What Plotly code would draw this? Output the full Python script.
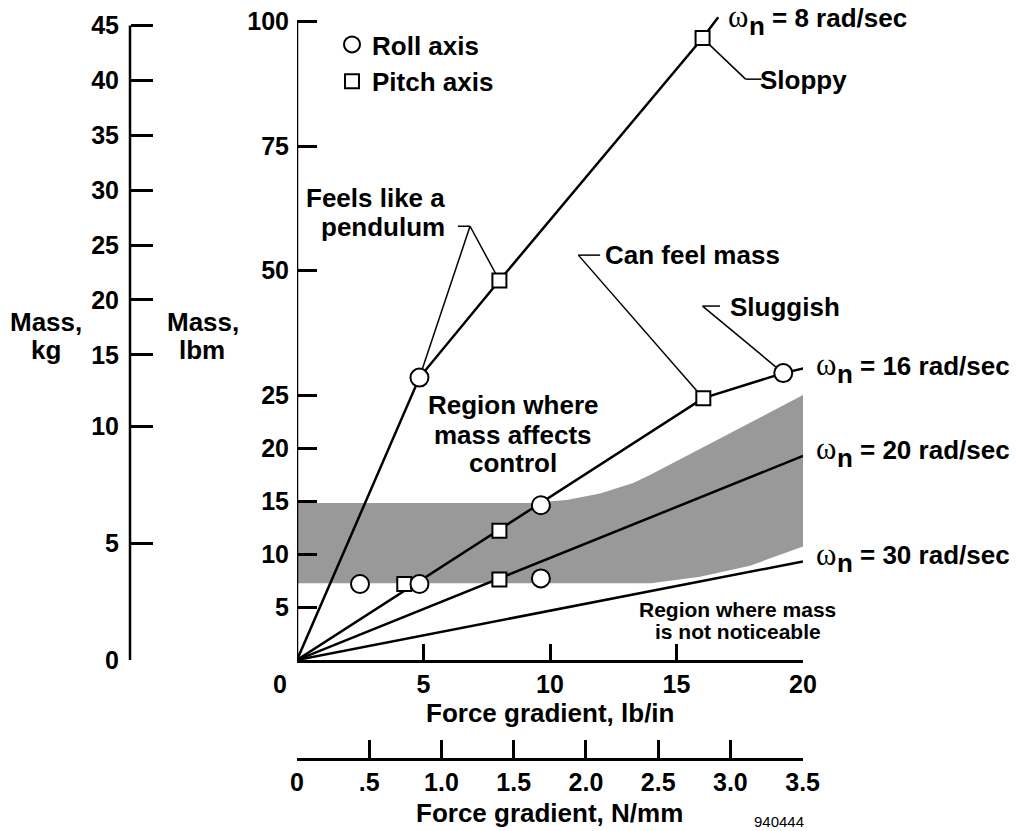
import plotly.graph_objects as go

# ---------------- data ----------------
LB_PER_KG = 2.20462
NMM_PER_LBIN = 0.175127

# constant natural-frequency lines: force gradient (lb/in) vs mass (lbm)
w8_force = [0, 4.84, 8.0, 16.03, 16.65]
w8_mass = [0, 28.5, 48.0, 96.7, 100.9]
w16_force = [0, 16.06, 19.22, 20.08]
w16_mass = [0, 24.7, 29.4, 30.4]
w20_force = [0, 20]
w20_mass = [0, 19.25]
w30_force = [0, 20]
w30_mass = [0, 9.3]

# test points
roll_force = [2.49, 4.84, 4.84, 9.64, 9.64, 19.22]
roll_mass = [7.17, 7.17, 28.5, 14.6, 7.7, 29.4]
pitch_force = [4.24, 8.0, 8.0, 8.0, 16.06, 16.03]
pitch_mass = [7.17, 7.6, 12.2, 48.0, 24.7, 96.7]

# shaded region "mass affects control"
region_upper_force = [0, 9.2, 10.66, 11.98, 13.29, 13.95, 20]
region_upper_mass = [14.8, 14.8, 15.1, 15.7, 16.7, 17.45, 25.0]
region_lower_force = [0, 13.99, 15.93, 17.91, 20]
region_lower_mass = [7.25, 7.25, 7.85, 8.9, 10.7]

# ticks
lbm_ticks = [5, 10, 15, 20, 25, 50, 75, 100]
kg_ticks = [0, 5, 10, 15, 20, 25, 30, 35, 40, 45]
force_ticks = [5, 10, 15, 20]
nmm_ticks = [0, 0.5, 1.0, 1.5, 2.0, 2.5, 3.0, 3.5]
nmm_labels = ["0", ".5", "1.0", "1.5", "2.0", "2.5", "3.0", "3.5"]

# ---------------- scale (broken mass axis: compressed above 25 lbm) ----------------
BREAK = 25.0
UPPER_RATIO = 0.4696


def ymap(m):
    return m if m <= BREAK else BREAK + (m - BREAK) * UPPER_RATIO


def ymapl(vals):
    return [ymap(v) for v in vals]


# ---------------- layout geometry ----------------
W, H = 1016, 831
ML, MR, MT, MB = 130, 213, 6, 72
PW = W - ML - MR
PH = H - MT - MB
PX_PER_LBM = 10.6


def px(x):
    return (x - ML) / PW


def py(y):
    return (H - MB - y) / PH


SANS = "Liberation Sans, Arial, Helvetica, sans-serif"
SERIF = "Liberation Serif, DejaVu Serif, serif"
BLACK = "black"

fig = go.Figure()

# shaded region
fig.add_trace(go.Scatter(
    x=region_upper_force + region_lower_force[::-1],
    y=ymapl(region_upper_mass) + ymapl(region_lower_mass[::-1]),
    fill="toself", fillcolor="#999999", mode="lines", line=dict(width=0),
    showlegend=False, hoverinfo="skip"))

for fx, my in [(w8_force, w8_mass), (w16_force, w16_mass),
               (w20_force, w20_mass), (w30_force, w30_mass)]:
    fig.add_trace(go.Scatter(x=fx, y=ymapl(my), mode="lines",
                             line=dict(color=BLACK, width=2.5),
                             showlegend=False, hoverinfo="skip"))

fig.add_trace(go.Scatter(
    x=pitch_force, y=ymapl(pitch_mass), mode="markers", name="Pitch axis",
    marker=dict(symbol="square", size=14, color="white",
                line=dict(color=BLACK, width=2)), legendrank=2))
fig.add_trace(go.Scatter(
    x=roll_force, y=ymapl(roll_mass), mode="markers", name="Roll axis",
    marker=dict(symbol="circle", size=18, color="white",
                line=dict(color=BLACK, width=2)), legendrank=1))

# dummy traces so the secondary axes are drawn
fig.add_trace(go.Scatter(x=[0], y=[0], xaxis="x2", yaxis="y", mode="markers",
                         marker=dict(opacity=0), showlegend=False, hoverinfo="skip"))
fig.add_trace(go.Scatter(x=[0], y=[0], xaxis="x", yaxis="y2", mode="markers",
                         marker=dict(opacity=0), showlegend=False, hoverinfo="skip"))

# ---------------- leaders & axis lines ----------------
shapes = []


def leader(points):
    for a, b in zip(points[:-1], points[1:]):
        shapes.append(dict(type="line", xref="x", yref="y", x0=a[0], y0=ymap(a[1]),
                           x1=b[0], y1=ymap(b[1]), layer="below",
                           line=dict(color=BLACK, width=1.5)))


leader([(6.36, 58.9), (6.84, 58.9), (8.0, 48.0)])
leader([(6.84, 58.9), (4.84, 28.5)])
leader([(11.98, 53.1), (11.12, 53.1), (16.06, 24.7)])
leader([(16.72, 42.87), (16.03, 42.87), (19.22, 29.4)])
leader([(16.03, 96.7), (17.73, 88.45), (18.36, 88.45)])

# lbm axis line (0..100) and kg axis line (0..45)
shapes.append(dict(type="line", xref="x", yref="y", x0=0, x1=0, y0=0, y1=ymap(100),
                   line=dict(color=BLACK, width=2.5)))
shapes.append(dict(type="line", xref="paper", yref="y", x0=0, x1=0, y0=0,
                   y1=ymap(45 * LB_PER_KG), line=dict(color=BLACK, width=2.5)))

# ---------------- text ----------------
ann = []


def label(text, x, y, xanchor="center", size=26, weight="bold", family=SANS):
    ann.append(dict(text=text, x=px(x), y=py(y), xref="paper", yref="paper",
                    xanchor=xanchor, yanchor="middle", showarrow=False,
                    font=dict(size=size, family=family, weight=weight, color=BLACK)))


def omega_label(value, x, y):
    label("ω", x - 1, y - 1, "left", size=31, family=SERIF, weight="normal")
    label("n", x + 20, y + 8, "left")
    label(f"= {value} rad/sec", x + 43, y, "left")


label("Mass,", 46, 322)
label("kg", 46, 350)
label("Mass,", 202.5, 322)
label("lbm", 202, 350)
label("0", 280, 684, size=25)

label("Feels like a", 447, 198, "right")
label("pendulum", 447, 226.7, "right")
label("Can feel mass", 602.7, 255, "left")
label("Sluggish", 728, 306.7, "left")
label("Sloppy", 757.7, 80, "left")
label("Region where", 513, 405)
label("mass affects", 513, 435)
label("control", 513, 463)
label("Region where mass", 737.5, 609, size=21)
label("is not noticeable", 737.5, 631.7, size=21)

omega_label(8, 727, 18)
omega_label(16, 815, 365.5)
omega_label(20, 815, 450)
omega_label(30, 815, 555)

label("Force gradient, lb/in", 550, 713)
label("Force gradient, N/mm", 549, 812.7)
label("940444", 806, 821, "right", size=15, weight="normal")

tickfont = dict(size=25, family=SANS, weight="bold", color=BLACK)
yrange = [0, (660 - MT) / PX_PER_LBM]

fig.update_layout(
    width=W, height=H, autosize=False,
    margin=dict(l=ML, r=MR, t=MT, b=MB, pad=0),
    paper_bgcolor="white", plot_bgcolor="white",
    font=dict(family=SANS, color=BLACK),
    showlegend=True,
    legend=dict(x=px(332), y=py(21), xanchor="left", yanchor="top",
                font=dict(size=26, family=SANS, weight="bold", color=BLACK),
                bgcolor="rgba(0,0,0,0)", borderwidth=0, itemsizing="trace",
                tracegroupgap=0),
    xaxis=dict(domain=[px(297), 1], range=[0, 20], anchor="y",
               showgrid=False, zeroline=False, showline=True,
               linecolor=BLACK, linewidth=2.5,
               ticks="inside", ticklen=16, tickwidth=2.5, tickcolor=BLACK,
               tickvals=force_ticks, ticktext=[str(v) for v in force_ticks],
               tickfont=tickfont),
    xaxis2=dict(overlaying="x", anchor="free", position=0, side="bottom",
                range=[0, 20], showgrid=False, zeroline=False, showline=True,
                linecolor=BLACK, linewidth=2.5,
                ticks="inside", ticklen=18, tickwidth=2.5, tickcolor=BLACK,
                tickvals=[v / NMM_PER_LBIN for v in nmm_ticks], ticktext=nmm_labels,
                tickfont=tickfont),
    yaxis=dict(domain=[py(660), 1], range=yrange, anchor="x",
               showgrid=False, zeroline=False, showline=False,
               ticks="inside", ticklen=20, tickwidth=2.5, tickcolor=BLACK,
               tickvals=ymapl(lbm_ticks), ticktext=[str(v) for v in lbm_ticks],
               tickfont=tickfont, ticklabelstandoff=7),
    yaxis2=dict(overlaying="y", anchor="free", position=0, side="left",
                range=yrange, showgrid=False, zeroline=False, showline=False,
                ticks="inside", ticklen=22, tickwidth=2.5, tickcolor=BLACK,
                tickvals=[ymap(k * LB_PER_KG) for k in kg_ticks],
                ticktext=[str(k) for k in kg_ticks],
                tickfont=tickfont, ticklabelstandoff=11),
    shapes=shapes,
    annotations=ann,
)

fig.write_html("out.html",
               config={"displayModeBar": False},
               post_script="document.body.style.margin='0px';"
                           "document.body.style.padding='0px';")
